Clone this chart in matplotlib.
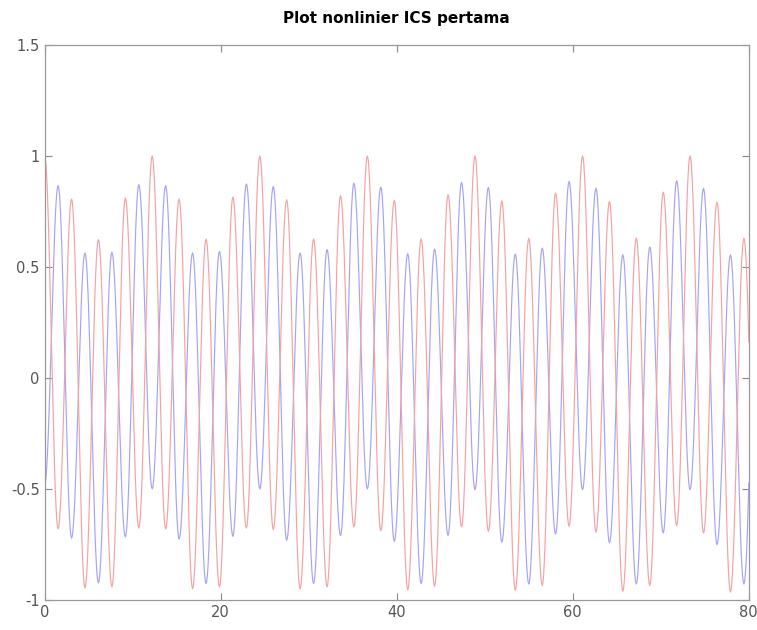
import numpy as np
import matplotlib
matplotlib.use("Agg")
from matplotlib import pyplot as plt

# times of the turning points (peaks / troughs)
t_ext = [0, 1.53, 3.06, 4.58, 6.11, 7.64, 9.17, 10.70, 12.22, 13.75,
         15.28, 16.81, 18.34, 19.86, 21.39, 22.92, 24.45, 25.98, 27.50, 29.03,
         30.56, 32.09, 33.62, 35.14, 36.67, 38.20, 39.73, 41.26, 42.78, 44.31,
         45.84, 47.37, 48.90, 50.42, 51.95, 53.48, 55.01, 56.54, 58.06, 59.59,
         61.12, 62.65, 64.18, 65.70, 67.23, 68.76, 70.29, 71.82, 73.34, 74.87,
         76.40, 77.93, 79.46, 80.98]

# red curve turning-point values
red_ext = [1.00, -0.680, 0.806, -0.946, 0.623, -0.941, 0.811, -0.676, 1.00, -0.680,
           0.806, -0.949, 0.626, -0.941, 0.815, -0.676, 1.00, -0.683, 0.803, -0.950,
           0.626, -0.941, 0.821, -0.671, 1.00, -0.688, 0.800, -0.954, 0.627, -0.938,
           0.826, -0.671, 1.00, -0.691, 0.798, -0.957, 0.629, -0.935, 0.833, -0.668,
           1.00, -0.695, 0.795, -0.961, 0.630, -0.935, 0.837, -0.665, 1.00, -0.698,
           0.792, -0.964, 0.630, -0.932]

# blue curve turning-point values
blue_ext = [-0.48, 0.866, -0.721, 0.563, -0.923, 0.566, -0.716, 0.871, -0.500, 0.866,
            -0.725, 0.563, -0.926, 0.570, -0.713, 0.874, -0.500, 0.863, -0.731, 0.563,
            -0.926, 0.578, -0.710, 0.878, -0.500, 0.860, -0.736, 0.560, -0.926, 0.581,
            -0.709, 0.881, -0.503, 0.858, -0.740, 0.558, -0.928, 0.585, -0.703, 0.886,
            -0.503, 0.855, -0.743, 0.555, -0.928, 0.590, -0.698, 0.889, -0.503, 0.854,
            -0.751, 0.554, -0.928, 0.594]

x_ticks = [0, 20, 40, 60, 80]
y_ticks = [-1, -0.5, 0, 0.5, 1, 1.5]
y_labels = ["-1", "-0.5", "0", "0.5", "1", "1.5"]


def smooth(times, vals, n=20):
    # half-cosine between consecutive turning points
    xs, ys = [], []
    s = np.linspace(0, 1, n)
    for i in range(len(times) - 1):
        a, b = vals[i], vals[i + 1]
        xs.append(times[i] + (times[i + 1] - times[i]) * s)
        ys.append((a + b) / 2 + (a - b) / 2 * np.cos(np.pi * s))
    return np.concatenate(xs), np.concatenate(ys)


fig = plt.figure(figsize=(7.57, 6.3), dpi=100)
ax = fig.add_axes([0.059, 0.0476, 0.930, 0.881])

xr, yr = smooth(t_ext, red_ext)
xb, yb = smooth(t_ext, blue_ext)
ax.plot(xb, yb, color="#a4a4f2", lw=0.85)
ax.plot(xr, yr, color="#f4a2a2", lw=0.85)

ax.set_xlim(0, 80)
ax.set_ylim(-1, 1.5)
ax.set_xticks(x_ticks)
ax.set_yticks(y_ticks)
ax.set_yticklabels(y_labels)
ax.tick_params(direction="in", top=True, right=True, length=5,
               colors="#888888", labelcolor="#555555", labelsize=10.5)
for sp in ax.spines.values():
    sp.set_color("#999999")
    sp.set_linewidth(0.9)
ax.set_title("Plot nonlinier ICS pertama", fontsize=11, fontweight="bold", pad=16)

fig.savefig("out.png", dpi=100)
